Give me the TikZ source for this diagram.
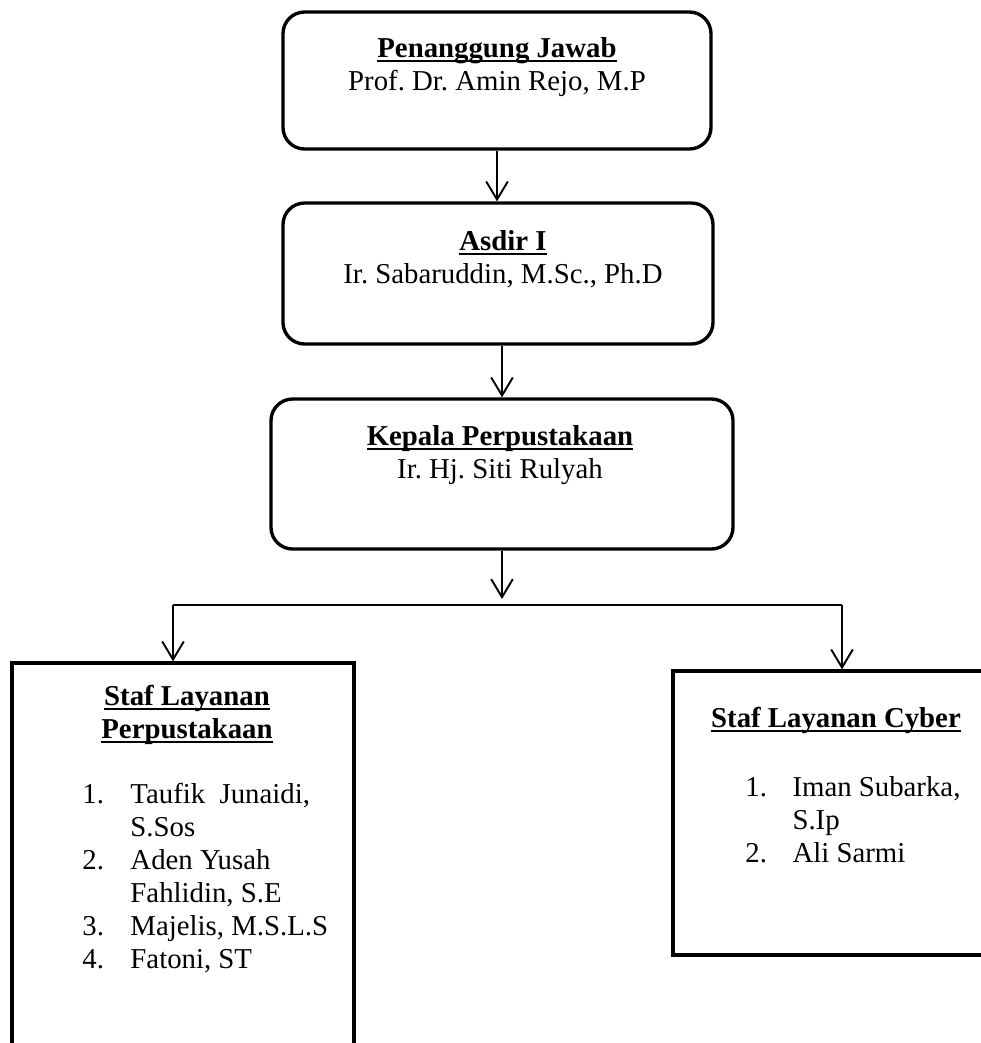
\documentclass[tikz,border=0pt]{standalone}
\usepackage{fontspec}
\setmainfont{Liberation Serif}
\usetikzlibrary{arrows.meta,fit}
\frenchspacing
\newcommand{\hd}[1]{\setbox0\hbox{\textbf{#1}}\rlap{\raisebox{-2pt}{\rule{\wd0}{0.75pt}}}\box0}
\begin{document}
\begin{tikzpicture}[x=0.41667pt,y=-0.41667pt,
  rbox/.style={draw, line width=1.4pt, rounded corners=9pt, inner sep=0pt},
  sbox/.style={draw, line width=1.4pt, inner sep=0pt},
  txt/.style={font=\fontsize{12}{13.8}\selectfont, inner sep=0pt, anchor=base},
  lst/.style={txt, anchor=base west},
  conn/.style={line width=0.8pt},
  arr/.style={conn, -{Straight Barb[length=7.5pt,width=9pt]}}]
\clip (0,0) rectangle (981,1043);
% boxes
\node[rbox, fit={(283,12) (711,149)}] (top) {};
\node[rbox, fit={(283,203) (713,344)}] (asdir) {};
\node[rbox, fit={(271,399) (733,549)}] (kepala) {};
\node[sbox, fit={(12,663) (354,1120)}] (lbox) {};
\node[sbox, fit={(673,671) (1060,955)}] (rbox) {};
% texts
\node[txt] (toptxt) at (497,57) {\begin{tabular}[t]{@{}c@{}}\hd{Penanggung Jawab}\\Prof. Dr. Amin Rejo, M.P\end{tabular}};
\node[txt] (asdirtxt) at (503,250) {\begin{tabular}[t]{@{}c@{}}\hd{Asdir I}\\Ir. Sabaruddin, M.Sc., Ph.D\end{tabular}};
\node[txt] (kepalatxt) at (500,445) {\begin{tabular}[t]{@{}c@{}}\hd{Kepala Perpustakaan}\\Ir. Hj. Siti Rulyah\end{tabular}};
\node[txt] (lhead) at (187,705) {\begin{tabular}[t]{@{}c@{}}\hd{Staf Layanan}\\\hd{Perpustakaan}\end{tabular}};
\node[lst] (llist) at (82,803) {\begin{tabular}[t]{@{}p{20pt}@{}l@{}}1.& Taufik\ \ Junaidi,\\ & S.Sos\\ 2.& Aden Yusah\\ & Fahlidin, S.E\\ 3.& Majelis, M.S.L.S\\ 4.& Fatoni, ST\end{tabular}};
\node[txt] (rhead) at (836,727) {\hd{Staf Layanan Cyber}};
\node[lst] (rlist) at (745,796) {\begin{tabular}[t]{@{}p{19.6pt}@{}l@{}}1.& Iman Subarka,\\ & S.Ip\\ 2.& Ali Sarmi\end{tabular}};
% connectors
\coordinate (jm) at (500,599);
\coordinate (jl) at (173,605);
\coordinate (jr) at (842,605);
\draw[arr] (top.south) -- (asdir.north -| top.south);
\draw[arr] (asdir.south -| kepala.north) -- (kepala.north);
\draw[arr] (kepala.south) -- (kepala.south |- jm);
\draw[conn] (jl) -- (jr);
\draw[arr] (jl) -- (lbox.north -| jl);
\draw[arr] (jr) -- (rbox.north -| jr);
\end{tikzpicture}
\end{document}
